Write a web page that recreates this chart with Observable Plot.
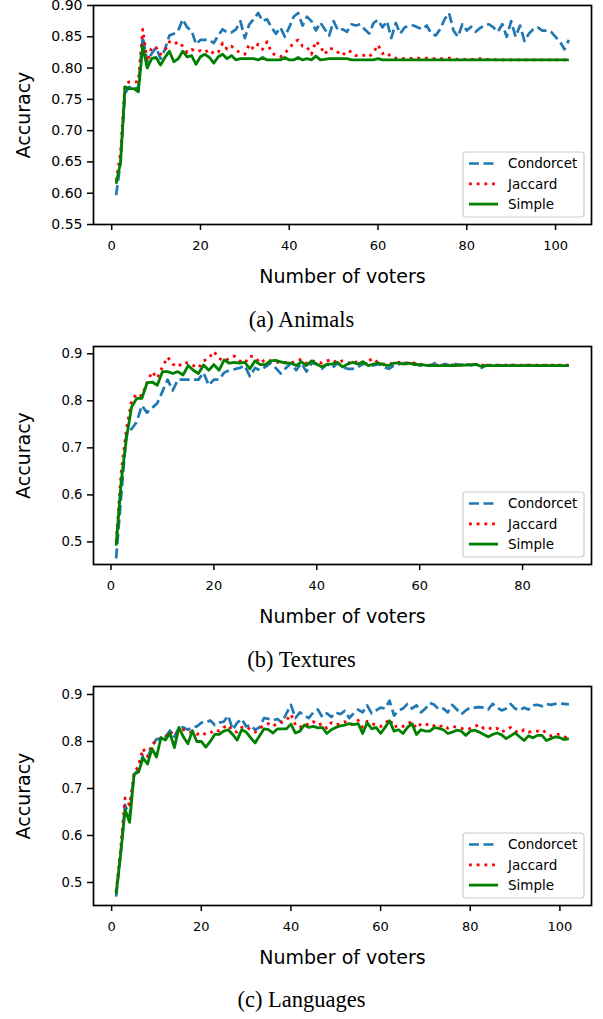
<!DOCTYPE html>
<html>
<head>
<meta charset="utf-8">
<script src="https://cdn.jsdelivr.net/npm/d3@7"></script>
<script src="https://cdn.jsdelivr.net/npm/@observablehq/plot@0.6"></script>
<style>
  html, body { margin: 0; padding: 0; background: #fff; }
  #root { position: relative; width: 603px; height: 1019px; }
  .panel { position: absolute; left: 0; }
  .caption { position: absolute; left: 0; width: 603px; text-align: center; line-height: 26px;
    font-family: "Liberation Serif", "DejaVu Serif", serif; font-size: 22.5px; color: #000; }
</style>
</head>
<body>
<div id="root"></div>
<script>
// ---------- data ----------
const seriesNames = ["Condorcet", "Jaccard", "Simple"];
const captions = ["(a) Animals", "(b) Textures", "(c) Languages"];
const xLabel = "Number of voters";
const yLabel = "Accuracy";

const animalsCondorcet = [
  0.597,0.650,0.760,0.770,0.765,0.770,0.850,0.810,0.823,0.833,
  0.815,0.830,0.852,0.855,0.860,0.878,0.865,0.860,0.838,0.845,
  0.845,0.845,0.840,0.852,0.862,0.857,0.857,0.862,0.875,0.848,
  0.870,0.878,0.888,0.875,0.878,0.865,0.855,0.865,0.850,0.865,
  0.882,0.888,0.868,0.882,0.875,0.860,0.873,0.862,0.852,0.875,
  0.860,0.862,0.858,0.870,0.868,0.870,0.862,0.855,0.872,0.877,
  0.865,0.875,0.848,0.872,0.855,0.865,0.868,0.868,0.865,0.862,
  0.868,0.855,0.852,0.862,0.878,0.888,0.860,0.850,0.870,0.860,
  0.866,0.858,0.864,0.868,0.870,0.865,0.858,0.870,0.850,0.875,
  0.850,0.868,0.843,0.855,0.862,0.865,0.860,0.860,0.858,0.850,
  0.842,0.830,0.845];
const animalsJaccard = [
  0.620,0.665,0.775,0.778,0.778,0.778,0.862,0.810,0.833,0.833,
  0.822,0.828,0.842,0.838,0.842,0.835,0.825,0.830,0.826,0.828,
  0.825,0.830,0.823,0.825,0.840,0.830,0.835,0.828,0.825,0.822,
  0.838,0.830,0.838,0.830,0.842,0.825,0.820,0.818,0.823,0.832,
  0.840,0.845,0.835,0.834,0.822,0.843,0.835,0.822,0.832,0.830,
  0.825,0.820,0.828,0.826,0.820,0.822,0.820,0.818,0.825,0.837,
  0.823,0.825,0.817,0.816,0.816,0.815,0.816,0.815,0.816,0.815,
  0.816,0.815,0.815,0.815,0.815,0.816,0.815,0.814,0.814,0.814,
  0.814,0.814,0.815,0.814,0.814,0.814,0.813,0.813,0.813,0.813,
  0.813,0.813,0.813,0.813,0.813,0.813,0.813,0.813,0.813,0.813,
  0.813,0.813,0.813];
const animalsSimple = [
  0.615,0.650,0.770,0.767,0.767,0.762,0.835,0.800,0.815,0.817,
  0.805,0.817,0.827,0.810,0.815,0.827,0.818,0.820,0.806,0.818,
  0.822,0.817,0.808,0.818,0.822,0.815,0.820,0.813,0.815,0.815,
  0.815,0.815,0.813,0.817,0.813,0.813,0.813,0.813,0.817,0.813,
  0.813,0.817,0.813,0.815,0.813,0.819,0.813,0.814,0.815,0.815,
  0.815,0.815,0.815,0.813,0.813,0.813,0.813,0.813,0.813,0.815,
  0.813,0.813,0.813,0.813,0.813,0.813,0.813,0.813,0.813,0.813,
  0.813,0.813,0.813,0.813,0.813,0.813,0.813,0.813,0.813,0.813,
  0.813,0.813,0.813,0.813,0.813,0.813,0.813,0.813,0.813,0.813,
  0.813,0.813,0.813,0.813,0.813,0.813,0.813,0.813,0.813,0.813,
  0.813,0.813,0.813];

const texturesCondorcet = [
  0.465,0.600,0.730,0.740,0.755,0.790,0.775,0.785,0.795,0.820,
  0.845,0.822,0.845,0.845,0.845,0.845,0.845,0.860,0.833,0.845,
  0.845,0.860,0.865,0.867,0.870,0.875,0.852,0.870,0.865,0.872,
  0.880,0.870,0.858,0.870,0.880,0.865,0.880,0.862,0.880,0.878,
  0.868,0.878,0.870,0.880,0.872,0.868,0.868,0.872,0.878,0.880,
  0.875,0.878,0.872,0.868,0.875,0.878,0.880,0.878,0.880,0.875,
  0.875,0.875,0.880,0.875,0.878,0.875,0.878,0.876,0.878,0.875,
  0.878,0.870,0.876,0.875,0.876,0.875,0.875,0.876,0.875,0.875,
  0.876,0.875,0.875,0.875,0.876,0.875,0.875,0.875,0.875];
const texturesJaccard = [
  0.500,0.650,0.740,0.800,0.815,0.810,0.838,0.862,0.848,0.872,
  0.893,0.878,0.872,0.882,0.880,0.875,0.870,0.885,0.890,0.905,
  0.890,0.885,0.890,0.895,0.885,0.880,0.895,0.893,0.880,0.888,
  0.885,0.883,0.880,0.882,0.880,0.885,0.888,0.880,0.885,0.883,
  0.880,0.885,0.888,0.880,0.885,0.882,0.878,0.885,0.882,0.885,
  0.890,0.880,0.878,0.878,0.880,0.882,0.880,0.882,0.880,0.878,
  0.876,0.876,0.876,0.877,0.876,0.876,0.877,0.876,0.876,0.879,
  0.877,0.876,0.876,0.876,0.876,0.876,0.876,0.876,0.876,0.876,
  0.876,0.876,0.876,0.876,0.876,0.876,0.876,0.876,0.876];
const texturesSimple = [
  0.492,0.630,0.720,0.787,0.805,0.805,0.838,0.840,0.833,0.862,
  0.862,0.858,0.862,0.855,0.875,0.865,0.858,0.876,0.865,0.877,
  0.865,0.887,0.880,0.882,0.880,0.882,0.868,0.885,0.877,0.877,
  0.885,0.886,0.883,0.880,0.880,0.875,0.883,0.875,0.885,0.878,
  0.872,0.878,0.878,0.882,0.872,0.878,0.882,0.878,0.883,0.875,
  0.878,0.880,0.877,0.875,0.880,0.880,0.878,0.880,0.877,0.877,
  0.876,0.875,0.875,0.875,0.875,0.875,0.875,0.876,0.876,0.877,
  0.877,0.873,0.875,0.875,0.875,0.875,0.875,0.875,0.875,0.875,
  0.875,0.875,0.875,0.875,0.875,0.875,0.875,0.875,0.875];

const languagesCondorcet = [
  0.470,0.560,0.665,0.640,0.730,0.740,0.770,0.765,0.790,0.805,
  0.805,0.810,0.823,0.810,0.830,0.830,0.825,0.830,0.832,0.840,
  0.840,0.845,0.835,0.840,0.842,0.855,0.825,0.840,0.848,0.832,
  0.835,0.825,0.830,0.850,0.848,0.845,0.848,0.840,0.860,0.878,
  0.850,0.862,0.855,0.850,0.862,0.868,0.852,0.860,0.852,0.862,
  0.858,0.865,0.850,0.860,0.868,0.862,0.877,0.860,0.866,0.872,
  0.870,0.887,0.855,0.866,0.870,0.880,0.870,0.877,0.862,0.870,
  0.882,0.878,0.868,0.870,0.862,0.878,0.868,0.858,0.866,0.872,
  0.872,0.873,0.872,0.868,0.880,0.872,0.866,0.870,0.880,0.870,
  0.866,0.872,0.868,0.877,0.878,0.875,0.880,0.878,0.880,0.881,
  0.880,0.879];
const languagesJaccard = [
  0.480,0.570,0.680,0.665,0.730,0.750,0.785,0.768,0.795,0.800,
  0.808,0.808,0.822,0.812,0.820,0.825,0.820,0.820,0.815,0.820,
  0.815,0.818,0.825,0.822,0.830,0.835,0.822,0.820,0.830,0.832,
  0.825,0.820,0.828,0.835,0.838,0.832,0.840,0.842,0.845,0.858,
  0.835,0.830,0.838,0.835,0.842,0.835,0.838,0.828,0.840,0.835,
  0.838,0.842,0.835,0.838,0.845,0.830,0.843,0.838,0.835,0.832,
  0.838,0.848,0.830,0.835,0.832,0.838,0.842,0.828,0.838,0.835,
  0.838,0.833,0.830,0.835,0.828,0.832,0.830,0.828,0.825,0.828,
  0.832,0.836,0.828,0.830,0.825,0.828,0.820,0.825,0.830,0.822,
  0.818,0.825,0.820,0.822,0.822,0.825,0.818,0.812,0.815,0.815,
  0.810,0.808];
const languagesSimple = [
  0.476,0.560,0.655,0.628,0.730,0.735,0.765,0.752,0.785,0.767,
  0.808,0.803,0.818,0.787,0.830,0.810,0.795,0.823,0.800,0.800,
  0.788,0.800,0.815,0.815,0.822,0.825,0.815,0.803,0.825,0.820,
  0.808,0.797,0.812,0.827,0.825,0.818,0.827,0.827,0.827,0.837,
  0.818,0.822,0.835,0.830,0.832,0.829,0.830,0.817,0.825,0.830,
  0.833,0.835,0.838,0.836,0.838,0.817,0.840,0.827,0.830,0.817,
  0.830,0.844,0.822,0.825,0.817,0.830,0.838,0.815,0.825,0.822,
  0.822,0.830,0.828,0.825,0.817,0.820,0.824,0.822,0.813,0.822,
  0.824,0.820,0.815,0.810,0.815,0.818,0.814,0.806,0.812,0.818,
  0.810,0.802,0.812,0.808,0.813,0.813,0.802,0.806,0.810,0.808,
  0.804,0.806];

const xTicks = [0, 20, 40, 60, 80, 100];
const yTicksA = [0.55, 0.60, 0.65, 0.70, 0.75, 0.80, 0.85, 0.90];
const yTicksBC = [0.5, 0.6, 0.7, 0.8, 0.9];

// ---------- styles ----------
const styles = {
  Condorcet: {stroke: "#1f77b4", strokeDasharray: "10,4.5", strokeWidth: 2.7, strokeLinecap: "butt"},
  Jaccard:   {stroke: "#ff0000", strokeDasharray: "2.8,4.9", strokeWidth: 2.8, strokeLinecap: "butt"},
  Simple:    {stroke: "#008000", strokeDasharray: null, strokeWidth: 2.8, strokeLinecap: "butt"}
};

const panels = [
  {top: 0,   series: [animalsCondorcet, animalsJaccard, animalsSimple],
   xDomain: [-4.1, 108.1], yDomain: [0.55, 0.90], yTicks: yTicksA, yFmt: ".2f", yFont: 14,
   mt: 5, mb: 76},
  {top: 340, series: [texturesCondorcet, texturesJaccard, texturesSimple],
   xDomain: [-3.4, 93.4], yDomain: [0.452, 0.9155], yTicks: yTicksBC, yFmt: ".1f", yFont: 13.2,
   mt: 6, mb: 76},
  {top: 680, series: [languagesCondorcet, languagesJaccard, languagesSimple],
   xDomain: [-4.05, 107.05], yDomain: [0.451, 0.917], yTicks: yTicksBC, yFmt: ".1f", yFont: 13.2,
   mt: 6, mb: 75}
];

const W = 603, H = 300, ML = 93, MR = 12;
const root = document.getElementById("root");

panels.forEach((p, pi) => {
  const lineMarks = p.series.map((vals, si) => {
    const st = styles[seriesNames[si]];
    return Plot.lineY(vals, {x: (d, i) => i + 1, y: d => d, ...st});
  });
  const svg = Plot.plot({
    width: W, height: H,
    marginLeft: ML, marginRight: MR, marginTop: p.mt, marginBottom: p.mb,
    style: {fontFamily: "DejaVu Sans, sans-serif", background: "white", color: "black", overflow: "visible"},
    x: {domain: p.xDomain, label: null},
    y: {domain: p.yDomain, label: null},
    marks: [
      ...lineMarks,
      Plot.frame({stroke: "black", strokeWidth: 1.7}),
      Plot.axisX(xTicks.filter(t => t <= p.xDomain[1]), {tickSize: 6, tickPadding: 10, fontSize: 13, strokeWidth: 1.5, label: null}),
      Plot.axisY(p.yTicks, {tickSize: 6, tickPadding: 5, fontSize: p.yFont, strokeWidth: 1.5, tickFormat: d3.format(p.yFmt), label: null}),
      Plot.text([xLabel], {frameAnchor: "bottom", dy: 58, fontSize: 19, fill: "black"}),
      Plot.text([yLabel], {frameAnchor: "left", textAnchor: "middle", lineAnchor: "middle", dx: -70, rotate: -90, fontSize: 19, fill: "black"})
    ]
  });

  // legend
  const s = d3.select(svg);
  const right = W - MR, bottom = H - p.mb;
  const bw = 121, bh = 65;
  const bx = right - 7 - bw, by = bottom - 7 - bh;
  const g = s.append("g").attr("text-anchor", "start");
  g.append("rect").attr("x", bx).attr("y", by).attr("width", bw).attr("height", bh)
    .attr("rx", 3).attr("fill", "white").attr("fill-opacity", 0.85)
    .attr("stroke", "#cccccc").attr("stroke-width", 1.2);
  seriesNames.forEach((name, i) => {
    const st = styles[name];
    const yy = by + 11.5 + i * 20.3;
    g.append("line").attr("x1", bx + 6).attr("x2", bx + 35).attr("y1", yy).attr("y2", yy)
      .attr("stroke", st.stroke).attr("stroke-width", st.strokeWidth)
      .attr("stroke-dasharray", st.strokeDasharray).attr("stroke-linecap", "butt");
    g.append("text").attr("x", bx + 45).attr("y", yy).attr("dy", "0.35em")
      .attr("text-anchor", "start")
      .attr("font-size", 13.5).attr("fill", "black").attr("font-family", "DejaVu Sans, sans-serif")
      .text(name);
  });

  const div = document.createElement("div");
  div.className = "panel";
  div.style.top = p.top + "px";
  div.appendChild(svg);
  root.appendChild(div);

  const cap = document.createElement("div");
  cap.className = "caption";
  cap.style.top = (p.top + 307) + "px";
  cap.textContent = captions[pi];
  root.appendChild(cap);
});
</script>
</body>
</html>
